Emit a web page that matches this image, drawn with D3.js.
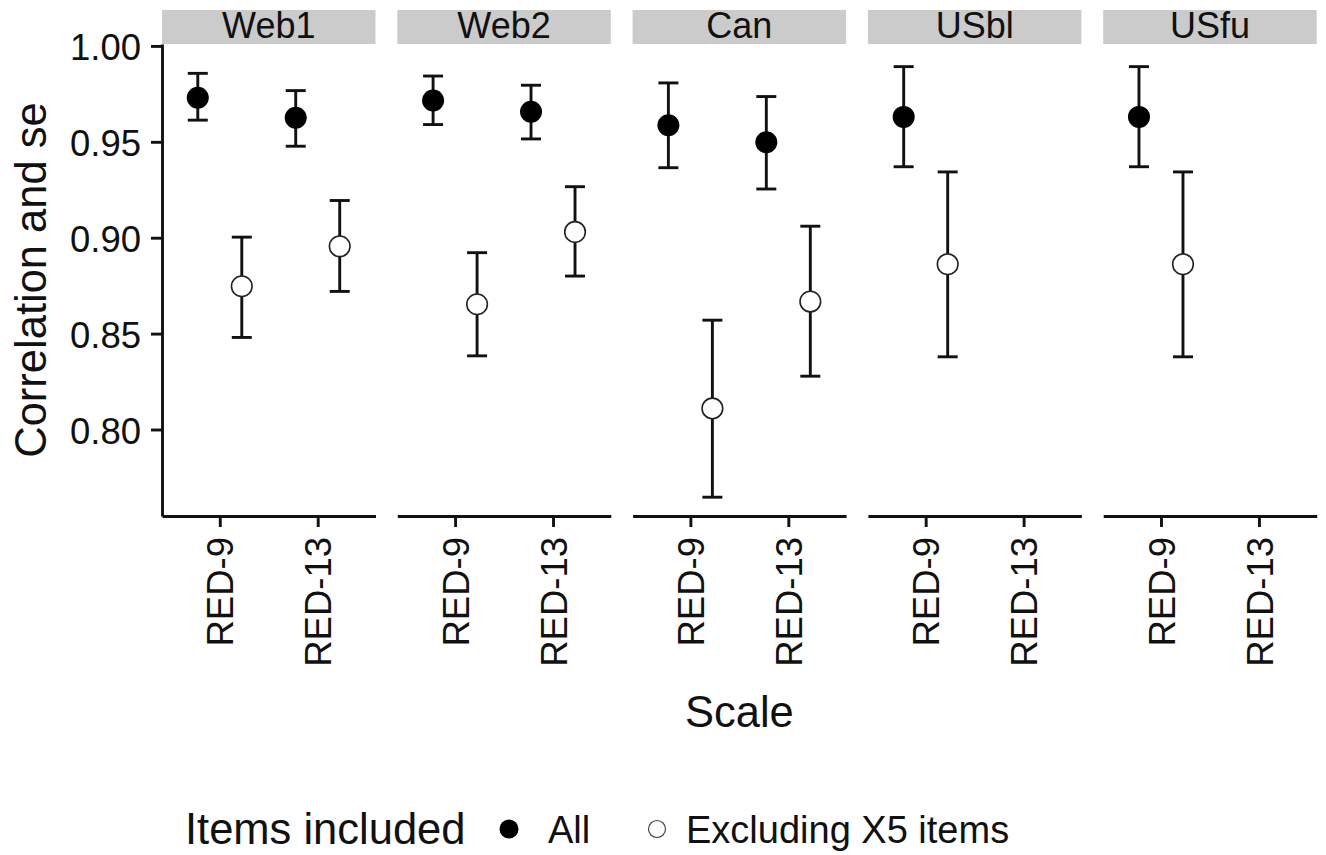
<!doctype html>
<html>
  <head>
    <meta charset="utf-8">
    <title>Correlation and se by scale</title>
    <script src="https://cdnjs.cloudflare.com/ajax/libs/d3/7.8.5/d3.min.js"></script>
    <style>
      body { margin: 0; background: #fff; }
      svg text { font-family: "Liberation Sans", Arial, sans-serif; fill: #111; }
    </style>
  </head>
  <body>
    <div id="chart"></div>
    <script>
      // values
      const panels = ['Web1', 'Web2', 'Can', 'USbl', 'USfu'];
      const scaleNames = ['RED-9', 'RED-13'];
      const groups = ['All', 'Excluding X5 items'];
      const yTicks = [0.80, 0.85, 0.90, 0.95, 1.00];

      // one row per panel: [RED-9, RED-13]; null = not measured
      const allMean = [[0.973, 0.9625], [0.9715, 0.9657], [0.9586, 0.9498], [0.963, null], [0.963, null]];
      const allLo   = [[0.9613, 0.9477], [0.959, 0.9515], [0.9365, 0.9254], [0.937, null], [0.937, null]];
      const allHi   = [[0.9857, 0.9767], [0.9843, 0.9795], [0.9807, 0.9736], [0.9892, null], [0.9892, null]];
      const exMean  = [[0.8747, 0.8955], [0.8653, 0.903], [0.811, 0.8667], [0.8862, null], [0.8862, null]];
      const exLo    = [[0.848, 0.872], [0.8384, 0.88], [0.7647, 0.8278], [0.8379, null], [0.8379, null]];
      const exHi    = [[0.9003, 0.9194], [0.8922, 0.9266], [0.857, 0.906], [0.9343, null], [0.9343, null]];

      // flatten to rows
      const rows = [];
      panels.forEach((p, i) => {
        scaleNames.forEach((s, j) => {
          if (allMean[i][j] != null) rows.push({panel: p, scale: s, group: groups[0], est: allMean[i][j], lo: allLo[i][j], hi: allHi[i][j]});
          if (exMean[i][j] != null) rows.push({panel: p, scale: s, group: groups[1], est: exMean[i][j], lo: exLo[i][j], hi: exHi[i][j]});
        });
      });

      const W = 1326, H = 855;
      const plotLeft = 162, plotTop = 44, plotBottom = 516;
      const panelW = 213.5, panelGap = 21.8;
      const stripH = 34;
      const lineW = 2.9;

      const svg = d3.select('#chart').append('svg')
        .attr('width', W).attr('height', H);

      const y = d3.scaleLinear().domain([0.7549, 1.001]).range([plotBottom, plotTop]);
      const facet = d3.scaleBand().domain(panels)
        .range([plotLeft, plotLeft + panels.length * panelW + (panels.length - 1) * panelGap])
        .paddingInner(panelGap / (panelW + panelGap));
      const x = d3.scalePoint().domain(scaleNames).range([0, panelW]).padding(0.59);
      const dodge = d3.scalePoint().domain(groups).range([-22, 22]);

      const g = svg.selectAll('g.panel')
        .data(panels)
        .join('g')
        .attr('class', 'panel')
        .attr('transform', d => `translate(${facet(d)},0)`);

      // strips
      g.append('rect')
        .attr('x', 0).attr('y', plotTop - stripH)
        .attr('width', panelW).attr('height', stripH)
        .attr('fill', '#cbcbcb');
      g.append('text')
        .attr('x', panelW / 2).attr('y', plotTop - 6)
        .attr('text-anchor', 'middle')
        .style('font-size', '36px')
        .text(d => d);

      // bottom axis in every panel
      g.each(function() {
        const ax = d3.select(this).append('g')
          .attr('transform', `translate(0,${plotBottom})`)
          .call(d3.axisBottom(x).tickSize(11).tickSizeOuter(0).tickPadding(10));
        ax.select('.domain').attr('stroke', '#111').attr('stroke-width', lineW);
        ax.selectAll('.tick line').attr('stroke', '#111').attr('stroke-width', lineW);
        ax.selectAll('.tick text')
          .attr('transform', 'rotate(-90)')
          .attr('x', -21).attr('y', 0).attr('dy', '0.36em')
          .attr('text-anchor', 'end')
          .style('font-size', '36.5px')
          .attr('fill', '#111');
      });

      // y axis on the first panel only
      const yAx = svg.append('g')
        .attr('transform', `translate(${plotLeft},0)`)
        .call(d3.axisLeft(y).tickValues(yTicks).tickFormat(d3.format('.2f')).tickSize(11).tickSizeOuter(0).tickPadding(10));
      yAx.select('.domain').attr('stroke', '#111').attr('stroke-width', lineW);
      yAx.selectAll('.tick line').attr('stroke', '#111').attr('stroke-width', lineW);
      yAx.selectAll('.tick text').style('font-size', '36.5px').attr('fill', '#111').attr('dy', '0.38em');

      // error bars and points
      const pts = g.selectAll('g.pt')
        .data(p => rows.filter(r => r.panel === p))
        .join('g')
        .attr('class', 'pt')
        .attr('transform', d => `translate(${x(d.scale) + dodge(d.group)},0)`);

      const capW = 10;
      pts.append('line')
        .attr('x1', 0).attr('x2', 0)
        .attr('y1', d => y(d.lo)).attr('y2', d => y(d.hi))
        .attr('stroke', '#111').attr('stroke-width', lineW);
      pts.append('line')
        .attr('x1', -capW).attr('x2', capW)
        .attr('y1', d => y(d.lo)).attr('y2', d => y(d.lo))
        .attr('stroke', '#111').attr('stroke-width', lineW);
      pts.append('line')
        .attr('x1', -capW).attr('x2', capW)
        .attr('y1', d => y(d.hi)).attr('y2', d => y(d.hi))
        .attr('stroke', '#111').attr('stroke-width', lineW);
      pts.append('circle')
        .attr('cx', 0).attr('cy', d => y(d.est))
        .attr('r', d => d.group === groups[0] ? 11 : 10.3)
        .attr('fill', d => d.group === groups[0] ? '#000' : '#fff')
        .attr('stroke', d => d.group === groups[0] ? 'none' : '#222')
        .attr('stroke-width', 1.6);

      // axis titles
      svg.append('text')
        .attr('x', (plotLeft + facet.range()[1]) / 2).attr('y', 727)
        .attr('text-anchor', 'middle')
        .style('font-size', '43.5px')
        .text('Scale');
      svg.append('text')
        .attr('transform', `translate(46,${(plotTop + plotBottom) / 2}) rotate(-90)`)
        .attr('text-anchor', 'middle')
        .style('font-size', '43.5px')
        .text('Correlation and se');

      // legend
      const leg = svg.append('g');
      leg.append('text')
        .attr('x', 185).attr('y', 844)
        .style('font-size', '43.5px')
        .text('Items included');
      const legX = [509, 657];
      const legItems = leg.selectAll('g.item')
        .data(groups)
        .join('g')
        .attr('class', 'item')
        .attr('transform', (d, i) => `translate(${legX[i]},829)`);
      legItems.append('circle')
        .attr('r', (d, i) => i === 0 ? 9.5 : 8.5)
        .attr('fill', (d, i) => i === 0 ? '#000' : '#fff')
        .attr('stroke', (d, i) => i === 0 ? 'none' : '#444')
        .attr('stroke-width', 1.2);
      legItems.append('text')
        .attr('x', (d, i) => i === 0 ? 39 : 29)
        .attr('y', 14)
        .style('font-size', '38px')
        .text(d => d);
    </script>
  </body>
</html>
